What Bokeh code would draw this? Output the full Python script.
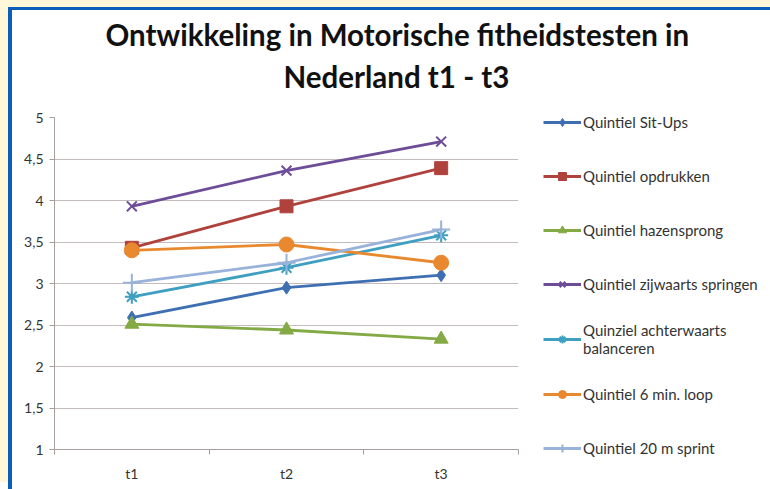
from bokeh.plotting import figure
from bokeh.models import (FixedTicker, Legend, LegendItem, Title, ColumnDataSource)
from bokeh.embed import file_html
from bokeh.resources import INLINE

# ---- data ----
categories = ["t1", "t2", "t3"]
x_pos = [1, 2, 3]
y_ticks = [1, 1.5, 2, 2.5, 3, 3.5, 4, 4.5, 5]
y_tick_labels = ["1", "1,5", "2", "2,5", "3", "3,5", "4", "4,5", "5"]

sit_ups = [2.59, 2.95, 3.10]
opdrukken = [3.43, 3.93, 4.39]
hazensprong = [2.51, 2.44, 2.33]
zijwaarts = [3.93, 4.36, 4.71]
achterwaarts = [2.84, 3.19, 3.58]
loop_6min = [3.40, 3.47, 3.25]
sprint_20m = [3.01, 3.25, 3.65]

series_names = ["Quintiel Sit-Ups", "Quintiel opdrukken", "Quintiel hazensprong",
                "Quintiel zijwaarts springen", "Quinziel achterwaarts\nbalanceren",
                "Quintiel 6 min. loop", "Quintiel 20 m sprint"]
series_values = [sit_ups, opdrukken, hazensprong, zijwaarts, achterwaarts, loop_6min, sprint_20m]
colors = ["#3F6FB3", "#B0423D", "#83AA45", "#6E4D98", "#3F9FC0", "#E8892F", "#98B2DA"]
markers = ["diamond", "square", "triangle", "x", "asterisk", "circle", "cross"]
marker_sizes = [13, 13, 14, 14, 14, 15, 18]

FONT = "Lato"

p = figure(frame_width=464, frame_height=332, output_backend="svg", toolbar_location=None,
           x_range=(0.5, 3.5), y_range=(1, 5),
           min_border_left=42, min_border_right=252, min_border_top=107, min_border_bottom=40)
p.styles = {"margin-left": "8px", "margin-top": "7px",
            "border-left": "4px solid #0C5DBA", "border-top": "3px solid #0C5DBA",
            "box-shadow": "-8px -7px 0 0 #FFF8D8"}
p.title = None
p.outline_line_color = None
p.background_fill_color = "white"
p.border_fill_color = "white"

# axes
p.xaxis.ticker = FixedTicker(ticks=x_pos, minor_ticks=[0.5, 1.5, 2.5, 3.5])
p.xaxis.major_label_overrides = {x: c for x, c in zip(x_pos, categories)}
p.xaxis.major_tick_line_color = None
p.xaxis.minor_tick_line_color = "#A89E9E"
p.xaxis.minor_tick_in = 0
p.xaxis.minor_tick_out = 5
p.xaxis.axis_line_color = "#A89E9E"
p.xaxis.major_label_standoff = 9
p.xaxis.major_label_text_font = FONT
p.xaxis.major_label_text_font_size = "14px"
p.xaxis.major_label_text_color = "#333333"

p.yaxis.ticker = FixedTicker(ticks=y_ticks, minor_ticks=[])
p.yaxis.major_label_overrides = {t: l for t, l in zip(y_ticks, y_tick_labels)}
p.yaxis.axis_line_color = "#A89E9E"
p.yaxis.major_tick_line_color = "#A89E9E"
p.yaxis.major_tick_in = 0
p.yaxis.major_tick_out = 5
p.yaxis.minor_tick_line_color = None
p.yaxis.major_label_standoff = 6
p.yaxis.major_label_text_font = FONT
p.yaxis.major_label_text_font_size = "14px"
p.yaxis.major_label_text_color = "#333333"

p.xgrid.grid_line_color = None
p.ygrid.ticker = FixedTicker(ticks=y_ticks)
p.ygrid.grid_line_color = "#C4BCBC"
p.ygrid.grid_line_width = 1

items = []
for name, vals, col, mk, ms in zip(series_names, series_values, colors, markers, marker_sizes):
    src = ColumnDataSource(dict(x=x_pos, y=vals))
    r1 = p.line("x", "y", source=src, line_color=col, line_width=2.8)
    r2 = p.scatter("x", "y", source=src, marker=mk, size=ms, fill_color=col,
                   line_color=col, line_width=2 if mk in ("x", "asterisk", "cross") else 1)
    items.append(LegendItem(label=name, renderers=[r1, r2]))

legend = Legend(items=items, location=(25, -16), orientation="vertical",
                glyph_width=38, glyph_height=20, label_height=34, spacing=20, label_standoff=2,
                padding=0, margin=0, border_line_color=None, background_fill_alpha=0,
                label_text_font=FONT, label_text_font_size="15px", label_text_color="#333333")
p.add_layout(legend, "right")

title2 = Title(text="Nederland t1 - t3", align="left", offset=229, standoff=48,
               text_font=FONT, text_font_style="bold", text_font_size="29.5px",
               text_color="#111111")
title1 = Title(text="Ontwikkeling in Motorische fitheidstesten in", align="left", offset=51,
               standoff=-38, text_font=FONT, text_font_style="bold", text_font_size="29.5px",
               text_color="#111111")
p.add_layout(title2, "above")
p.add_layout(title1, "above")

open("out.html", "w").write(file_html(p, INLINE))
